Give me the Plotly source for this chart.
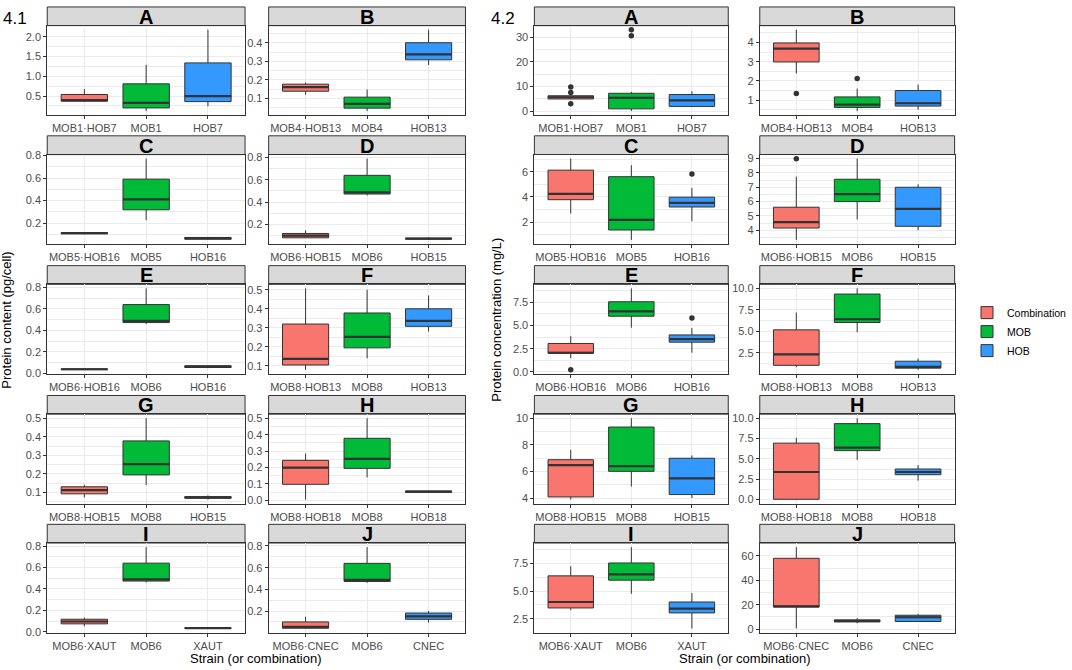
import plotly.graph_objects as go

groups = ["Combination", "MOB", "HOB"]
fill_colors = ["#F8766D", "#00BA38", "#3399FF"]
letters = ["A", "B", "C", "D", "E", "F", "G", "H", "I", "J"]
categories = [
    ["MOB1·HOB7", "MOB1", "HOB7"],
    ["MOB4·HOB13", "MOB4", "HOB13"],
    ["MOB5·HOB16", "MOB5", "HOB16"],
    ["MOB6·HOB15", "MOB6", "HOB15"],
    ["MOB6·HOB16", "MOB6", "HOB16"],
    ["MOB8·HOB13", "MOB8", "HOB13"],
    ["MOB8·HOB15", "MOB8", "HOB15"],
    ["MOB8·HOB18", "MOB8", "HOB18"],
    ["MOB6·XAUT", "MOB6", "XAUT"],
    ["MOB6·CNEC", "MOB6", "CNEC"],
]

# 4.1 Protein content (pg/cell): box statistics per panel [combination, MOB, HOB]
low_41 = [[0.35, 0.12, 0.24], [0.12, 0.032, 0.28], [0.10, 0.225, 0.05], [0.08, 0.46, 0.062],
          [0.035, 0.46, 0.05], [0.08, 0.14, 0.28], [0.074, 0.14, 0.062], [0.005, 0.14, 0.045],
          [0.05, 0.46, 0.031], [0.04, 0.46, 0.094]]
q1_41 = [[0.37, 0.20, 0.36], [0.139, 0.048, 0.308], [0.105, 0.318, 0.056], [0.081, 0.473, 0.069],
         [0.036, 0.473, 0.056], [0.105, 0.195, 0.308], [0.093, 0.195, 0.069], [0.098, 0.195, 0.049],
         [0.074, 0.473, 0.032], [0.042, 0.473, 0.124]]
med_41 = [[0.40, 0.33, 0.50], [0.161, 0.071, 0.337], [0.11, 0.41, 0.065], [0.10, 0.488, 0.074],
          [0.04, 0.488, 0.065], [0.137, 0.253, 0.337], [0.113, 0.253, 0.074], [0.199, 0.253, 0.053],
          [0.096, 0.488, 0.034], [0.055, 0.488, 0.152]]
q3_41 = [[0.54, 0.81, 1.34], [0.177, 0.107, 0.40], [0.115, 0.59, 0.072], [0.12, 0.64, 0.078],
         [0.043, 0.64, 0.072], [0.32, 0.378, 0.40], [0.131, 0.378, 0.078], [0.244, 0.378, 0.057],
         [0.117, 0.64, 0.036], [0.10, 0.64, 0.182]]
high_41 = [[0.68, 1.29, 2.18], [0.186, 0.148, 0.47], [0.118, 0.773, 0.075], [0.147, 0.79, 0.085],
           [0.044, 0.79, 0.075], [0.507, 0.50, 0.47], [0.142, 0.50, 0.085], [0.285, 0.50, 0.06],
           [0.133, 0.79, 0.037], [0.148, 0.79, 0.20]]
outliers_41 = [[[], [], []] for _ in range(10)]

# 4.2 Protein concentration (mg/L)
low_42 = [[5.0, 0.1, 1.7], [2.39, 0.43, 0.5], [2.68, 0.58, 2.06], [3.33, 4.76, 4.02],
          [1.46, 4.76, 2.06], [0.8, 4.88, 0.5], [3.9, 4.88, 4.02], [0.0, 4.88, 2.33],
          [3.27, 4.76, 1.62], [0.5, 4.76, 5.9]]
q1_42 = [[5.0, 1.0, 2.0], [2.99, 0.62, 0.69], [3.78, 1.37, 3.2], [4.16, 6.0, 4.28],
         [1.99, 6.0, 3.2], [1.02, 6.02, 0.69], [4.10, 6.02, 4.28], [0.04, 6.02, 3.06],
         [3.48, 6.0, 3.03], [18.1, 6.0, 6.2]]
med_42 = [[5.7, 5.5, 4.4], [3.69, 0.77, 0.84], [4.25, 2.18, 3.52], [4.57, 6.52, 5.49],
          [2.06, 6.52, 3.52], [2.3, 6.4, 0.84], [6.49, 6.4, 5.49], [3.39, 6.4, 3.39],
          [4.02, 6.52, 3.42], [18.6, 6.52, 9.7]]
q3_42 = [[6.3, 7.3, 6.8], [3.98, 1.17, 1.5], [6.13, 5.61, 3.98], [5.61, 7.56, 7.0],
         [3.06, 7.56, 3.98], [5.16, 9.34, 1.5], [6.89, 9.34, 7.0], [6.94, 9.34, 3.76],
         [6.39, 7.56, 4.02], [58.1, 7.56, 11.35]]
high_42 = [[6.5, 7.9, 8.1], [4.67, 1.6, 1.81], [7.05, 6.52, 4.72], [7.74, 9.0, 7.21],
           [3.84, 9.0, 4.72], [7.19, 10.0, 1.81], [7.64, 10.0, 7.21], [7.59, 10.0, 4.24],
           [7.26, 9.0, 4.83], [67.3, 9.0, 12.4]]
outliers_42 = [[[9.8, 7.6, 3.1], [30.6, 33.0], []], [[1.35], [2.13], []], [[], [], [5.82]],
               [[8.98], [], []], [[0.22], [], [5.82]], [[], [], []], [[], [], []],
               [[], [], []], [[], [], []], [[], [], []]]

# y tick settings per panel
dtick_41 = [0.5, 0.1, 0.2, 0.2, 0.2, 0.1, 0.1, 0.1, 0.2, 0.2]
fmt_41 = [".1f"] * 10
dtick_42 = [10, 1, 2, 1, 2.5, 2.5, 2, 2.5, 2.5, 20]
fmt_42 = ["d", "d", "d", "d", ".1f", ".1f", "d", ".1f", ".1f", "d"]

datasets = [
    (low_41, q1_41, med_41, q3_41, high_41, outliers_41, dtick_41, fmt_41),
    (low_42, q1_42, med_42, q3_42, high_42, outliers_42, dtick_42, fmt_42),
]

W, H = 1072, 670
col_px = [[(48, 249), (273, 473)], [(543, 740), (772, 970)]]
strip_top = [2, 133, 265, 397, 528]
STRIP_H = 19
PLOT_H = 91
FONT = "Liberation Sans, Arial, sans-serif"
DARK = "#333333"
GRID = "#EBEBEB"
BOXW = 0.75

fig = go.Figure()
layout = {}
shapes = []
annotations = []

for g, (lo, q1, md, q3, hi, outl, dts, fmts) in enumerate(datasets):
    for k in range(10):
        n = g * 10 + k + 1
        sfx = "" if n == 1 else str(n)
        row, col = k // 2, k % 2
        x0, x1 = col_px[g][col]
        st = strip_top[row]
        pt = st + STRIP_H
        pb = pt + PLOT_H
        vals = lo[k] + hi[k] + [v for lst in outl[k] for v in lst]
        vmin, vmax = min(vals), max(vals)
        pad = 0.05 * (vmax - vmin)
        layout["xaxis" + sfx] = dict(
            domain=[x0 / W, x1 / W], anchor="y" + sfx, range=[-0.6, 2.6],
            tickmode="array", tickvals=[0, 1, 2], ticktext=categories[k],
            showline=True, mirror=True, linecolor=DARK, linewidth=1,
            ticks="outside", ticklen=3, tickcolor=DARK, tickwidth=1,
            showgrid=True, gridcolor=GRID, gridwidth=1, zeroline=False,
            tickfont=dict(family=FONT, size=11, color="#4D4D4D"), fixedrange=True,
        )
        layout["yaxis" + sfx] = dict(
            domain=[1 - pb / H, 1 - pt / H], anchor="x" + sfx,
            range=[vmin - pad, vmax + pad], tickmode="linear", tick0=0, dtick=dts[k],
            tickformat=fmts[k],
            minor=dict(tick0=0, dtick=dts[k] / 2, showgrid=True, gridcolor=GRID, gridwidth=0.6),
            showline=True, mirror=True, linecolor=DARK, linewidth=1,
            ticks="outside", ticklen=3, tickcolor=DARK, tickwidth=1,
            showgrid=True, gridcolor=GRID, gridwidth=1, zeroline=False,
            tickfont=dict(family=FONT, size=11, color="#4D4D4D"), fixedrange=True,
        )
        mx, my = [], []
        ox, oy = [], []
        for j in range(3):
            fig.add_trace(go.Box(
                x=[j], q1=[q1[k][j]], median=[md[k][j]], q3=[q3[k][j]],
                lowerfence=[lo[k][j]], upperfence=[hi[k][j]],
                width=BOXW, whiskerwidth=0, boxpoints=False,
                fillcolor=fill_colors[j], line=dict(color=DARK, width=1),
                name=groups[j], showlegend=(n == 1),
                xaxis="x" + sfx, yaxis="y" + sfx, hoverinfo="skip",
            ))
            mx += [j - BOXW / 2, j + BOXW / 2, None]
            my += [md[k][j], md[k][j], None]
            for v in outl[k][j]:
                ox.append(j)
                oy.append(v)
        fig.add_trace(go.Scatter(x=mx, y=my, mode="lines", line=dict(color=DARK, width=2.2),
                                 showlegend=False, xaxis="x" + sfx, yaxis="y" + sfx,
                                 hoverinfo="skip"))
        if ox:
            fig.add_trace(go.Scatter(x=ox, y=oy, mode="markers",
                                     marker=dict(color=DARK, size=5.5),
                                     showlegend=False, xaxis="x" + sfx, yaxis="y" + sfx,
                                     hoverinfo="skip"))
        shapes.append(dict(type="rect", xref="paper", yref="paper",
                           x0=x0 / W, x1=x1 / W, y0=1 - pt / H, y1=1 - st / H,
                           fillcolor="#D9D9D9", line=dict(color=DARK, width=1), layer="below"))
        annotations.append(dict(text="<b>%s</b>" % letters[k], xref="paper", yref="paper",
                                x=(x0 + x1) / 2 / W, y=1 - (st + STRIP_H / 2 + 0.5) / H,
                                showarrow=False, xanchor="center", yanchor="middle",
                                font=dict(family=FONT, size=20, color="black")))

# group labels and axis titles
annotations += [
    dict(text="4.1", x=1 / W, y=1 - 14 / H, xanchor="left", yanchor="middle",
         font=dict(family=FONT, size=17, color="black")),
    dict(text="4.2", x=497 / W, y=1 - 14 / H, xanchor="left", yanchor="middle",
         font=dict(family=FONT, size=17, color="black")),
    dict(text="Protein content (pg/cell)", x=7 / W, y=1 - 320 / H, textangle=-90,
         xanchor="center", yanchor="middle", font=dict(family=FONT, size=13, color="black")),
    dict(text="Protein concentration (mg/L)", x=505 / W, y=1 - 320 / H, textangle=-90,
         xanchor="center", yanchor="middle", font=dict(family=FONT, size=13, color="black")),
    dict(text="Strain (or combination)", x=260 / W, y=1 - 664 / H,
         xanchor="center", yanchor="middle", font=dict(family=FONT, size=13, color="black")),
    dict(text="Strain (or combination)", x=757 / W, y=1 - 664 / H,
         xanchor="center", yanchor="middle", font=dict(family=FONT, size=13, color="black")),
]
for a in annotations:
    a.setdefault("xref", "paper")
    a.setdefault("yref", "paper")
    a.setdefault("showarrow", False)

fig.update_layout(
    width=W, height=H, margin=dict(l=0, r=0, t=0, b=0),
    paper_bgcolor="white", plot_bgcolor="white",
    boxmode="overlay", shapes=shapes, annotations=annotations,
    legend=dict(x=983 / W, y=1 - 298 / H, xanchor="left", yanchor="top",
                font=dict(family=FONT, size=10.5, color="black"), tracegroupgap=0,
                itemwidth=30, bgcolor="rgba(0,0,0,0)"),
    **layout,
)
fig.write_html("out.html", post_script="document.body.style.margin='0';",
               config={"displayModeBar": False})
